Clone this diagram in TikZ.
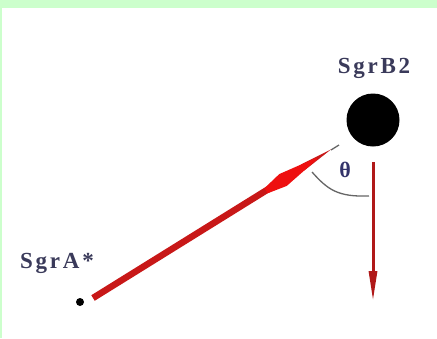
\documentclass[tikz,border=0pt]{standalone}
\usepackage{fontspec}
\setmainfont{Liberation Serif}
\newfontfamily\lblfont[LetterSpace=12]{Liberation Serif}
\usetikzlibrary{arrows.meta}
\definecolor{bandgreen}{HTML}{CCFFCC}
\definecolor{lblcol}{HTML}{3A3A5A}
\definecolor{thetacol}{HTML}{33336A}
\definecolor{linered}{HTML}{C81818}
\definecolor{kitered}{HTML}{EE1010}
\definecolor{vertred}{HTML}{B01818}
\tikzset{
  lbl/.style={font=\lblfont\bfseries\fontsize{23}{25}\selectfont, text=lblcol, inner sep=0pt},
  arcline/.style={draw=gray!80!black, line width=1.3pt},
}
\begin{document}
\begin{tikzpicture}[x=1pt,y=-1pt]
\useasboundingbox (0,0) rectangle (437,338);
\fill[white] (0,0) rectangle (437,338);
\fill[bandgreen] (0,0) rectangle (437,8);
\fill[bandgreen] (0,0) rectangle (1.5,338);
% nodes
\node[circle, fill=black, minimum size=8pt, inner sep=0pt] (sgra) at (80,302) {};
\node[circle, fill=black, minimum size=53pt, inner sep=0pt] (sgrb) at (373,120) {};
\node[lbl, anchor=base] (la) at (57,268) {SgrA*};
\node[lbl, anchor=base] (lb) at (374,73) {SgrB2};
\node[font=\bfseries\fontsize{22}{24}\selectfont, text=thetacol, inner sep=0pt] (th) at (345,170) {θ};
% coordinates
\coordinate (s0) at (93,298);
\coordinate (tip) at (331,150);
\coordinate (gtip) at (339,145);
\coordinate (kite) at (283,180);
\coordinate (v0) at (373,162);
\coordinate (v1) at (373,301);
\coordinate (a0) at (312,172);
\coordinate (a1) at (369,196);
% angle arc
\draw[arcline] (tip) -- (gtip);
\draw[arcline] (a0) .. controls (328,190) and (338,197) .. (a1);
% main red line
\draw[linered, line width=6.5pt] (s0) -- (kite);
% kite (mid arrowhead) and tapering end
\begin{scope}[shift={(kite)}, rotate=32.5]
\fill[linered] (-2,-3.25) -- (25,-3.25) -- (57,0) -- (25,3.25) -- (-2,3.25) -- cycle;
\fill[kitered] (-20,-3) -- (0,-7) -- (40,-0.8) -- (40,0.8) -- (0,7) -- (-20,3) -- cycle;
\end{scope}
% vertical arrow
\draw[vertred, line width=3pt, -{Triangle[length=30pt,width=8pt]}] (v0) -- (v1);
\end{tikzpicture}
\end{document}
